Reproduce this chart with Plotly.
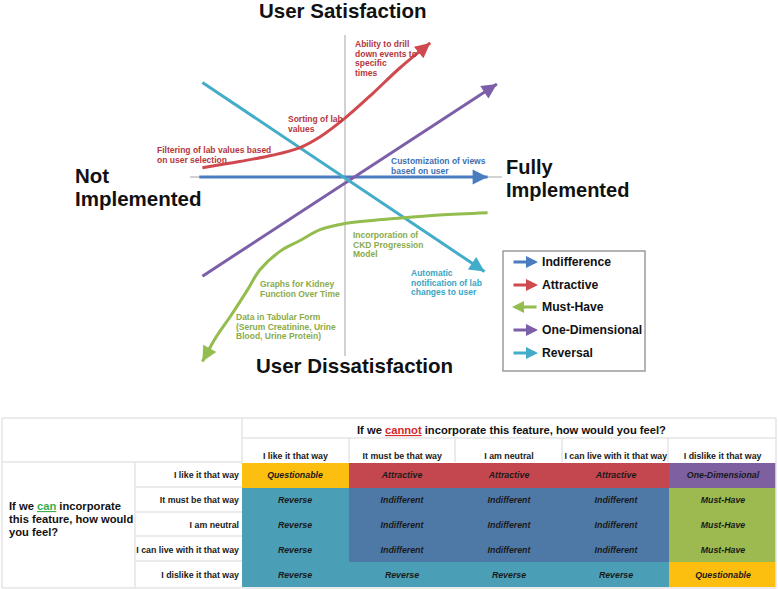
import plotly.graph_objects as go

W, H = 778, 589
FONT = "Arial, Liberation Sans, sans-serif"

# ---------------- Kano diagram data (normalised Kano space) ----------------
indiff_x = [-0.94, 0.92]
indiff_y = [0.0, 0.0]

attr_x = [-0.92, -0.68, -0.47, -0.29, -0.16, 0.0, 0.18, 0.35, 0.55]
attr_y = [0.06, 0.10, 0.14, 0.19, 0.26, 0.38, 0.54, 0.70, 0.865]

must_x = [0.92, 0.61, 0.36, 0.0, -0.16, -0.29, -0.42, -0.55, -0.63, -0.74, -0.83, -0.92]
must_y = [-0.23, -0.245, -0.265, -0.30, -0.34, -0.41, -0.48, -0.60, -0.73, -0.90, -1.03, -1.19]

onedim_x = [-0.92, 0.98]
onedim_y = [-0.64, 0.60]

rev_x = [-0.92, 0.90]
rev_y = [0.61, -0.61]

legend_names = ["Indifference", "Attractive", "Must-Have", "One-Dimensional", "Reversal"]
legend_colors = ["#4a7cc0", "#d0494f", "#93bd4e", "#7c5fa8", "#43adc9"]

notes = [
    (["Ability to drill", "down events to", "specific", "times"], "#b5363d", 353, 44),
    (["Sorting of lab", "values"], "#b5363d", 286, 119),
    (["Filtering of lab values based", "on user selection"], "#b5363d", 155, 150),
    (["Customization of views", "based on user"], "#3f6fb3", 389, 161),
    (["Incorporation of", "CKD Progression", "Model"], "#8aab4c", 351, 235),
    (["Automatic", "notification of lab", "changes to user"], "#3aa4c4", 409, 273),
    (["Graphs for Kidney", "Function Over Time"], "#8aab4c", 258, 284),
    (["Data in Tabular Form", "(Serum Creatinine, Urine", "Blood, Urine Protein)"], "#8aab4c", 234, 317),
]

# ---------------- Kano table data ----------------
answers = ["I like it that way", "It must be that way", "I am neutral",
           "I can live with it that way", "I dislike it that way"]
table = [
    ["Questionable", "Attractive", "Attractive", "Attractive", "One-Dimensional"],
    ["Reverse", "Indifferent", "Indifferent", "Indifferent", "Must-Have"],
    ["Reverse", "Indifferent", "Indifferent", "Indifferent", "Must-Have"],
    ["Reverse", "Indifferent", "Indifferent", "Indifferent", "Must-Have"],
    ["Reverse", "Reverse", "Reverse", "Reverse", "Questionable"],
]
cat_order = ["Questionable", "Attractive", "One-Dimensional", "Reverse", "Indifferent", "Must-Have"]
cat_colors = ["#fdbf0f", "#c4474f", "#7e5fa0", "#4a9fb6", "#4e79a7", "#9cba50"]

# ---------------- helpers for layout placement ----------------
CX, CY, S = 345, 177, 155  # Kano origin in pixels, pixels per unit


def px(x):
    return x / W


def py(y):
    return 1 - y / H


fig = go.Figure()

# gray axes of the Kano diagram
fig.add_trace(go.Scatter(x=[(190 - CX) / S, (502 - CX) / S], y=[0, 0], mode="lines",
                         line=dict(color="#d2d2d2", width=2), hoverinfo="skip", showlegend=False))
fig.add_trace(go.Scatter(x=[0, 0], y=[(CY - 35) / S, (CY - 356) / S], mode="lines",
                         line=dict(color="#d2d2d2", width=2), hoverinfo="skip", showlegend=False))

series = [
    (indiff_x, indiff_y, legend_colors[0], "linear"),
    (onedim_x, onedim_y, legend_colors[3], "linear"),
    (rev_x, rev_y, legend_colors[4], "linear"),
    (attr_x, attr_y, legend_colors[1], "spline"),
    (must_x, must_y, legend_colors[2], "spline"),
]
for xs, ys, col, shp in series:
    fig.add_trace(go.Scatter(x=xs, y=ys, mode="lines", line=dict(color=col, width=3, shape=shp),
                             hoverinfo="skip", showlegend=False))

annotations = []

# arrowheads at the ends of each curve (direction from last segment)
L = 14
for xs, ys, col, shp in series:
    dx, dy = xs[-1] - xs[-2], ys[-1] - ys[-2]
    nrm = max((dx * dx + dy * dy) ** 0.5, 1e-9)
    annotations.append(dict(x=xs[-1], y=ys[-1], ax=-dx / nrm * L, ay=dy / nrm * L,
                            xref="x", yref="y", axref="pixel", ayref="pixel", text="",
                            showarrow=True, arrowhead=2, arrowsize=1.0, arrowwidth=3,
                            arrowcolor=col))

# note labels
LS = 9.6
for lines, col, lx, ly in notes:
    for i, t in enumerate(lines):
        annotations.append(dict(x=px(lx), y=py(ly + i * LS), xref="paper", yref="paper",
                                text=f"<b>{t}</b>", showarrow=False, xanchor="left", yanchor="middle",
                                font=dict(family=FONT, size=8.5, color=col)))

# axis titles
big = dict(family=FONT, size=20.5, color="#111111")
titles = [
    dict(x=px(342), y=py(10), text="<b>User Satisfaction</b>", font=big),
    dict(x=px(354), y=py(365), text="<b>User Dissatisfaction</b>", font=big),
    dict(x=px(73), y=py(175), text="<b>Not</b>", font=big, xanchor="left"),
    dict(x=px(73), y=py(199), text="<b>Implemented</b>", font=big, xanchor="left"),
    dict(x=px(504), y=py(167), text="<b>Fully</b>", font=dict(family=FONT, size=20, color="#111111"), xanchor="left"),
    dict(x=px(504), y=py(190), text="<b>Implemented</b>", font=dict(family=FONT, size=20, color="#111111"), xanchor="left"),
]
for a in titles:
    a.update(xref="paper", yref="paper", showarrow=False, yanchor="middle")
annotations += titles

# legend
shapes = [dict(type="rect", xref="paper", yref="paper", x0=px(503), x1=px(645), y0=py(251), y1=py(371),
               line=dict(color="#9a9a9a", width=1.5), fillcolor="white", layer="below")]
leg_y = [262, 285, 307, 330, 353]
for name, col, yy in zip(legend_names, legend_colors, leg_y):
    left = name == "Must-Have"
    xa, xb = (538, 512) if left else (512, 538)
    annotations.append(dict(x=px(xb), y=py(yy), ax=xa - xb, ay=0, xref="paper", yref="paper",
                            axref="pixel", ayref="pixel", text="", showarrow=True, arrowhead=2,
                            arrowsize=0.8, arrowwidth=3, arrowcolor=col))
    annotations.append(dict(x=px(540), y=py(yy), xref="paper", yref="paper", text=f"<b>{name}</b>",
                            showarrow=False, xanchor="left", yanchor="middle",
                            font=dict(family=FONT, size=12.2, color="#111111")))

# ---------------- table ----------------
codes = [[cat_order.index(v) for v in row] for row in table]
n = len(cat_order)
cscale = []
for i, c in enumerate(cat_colors):
    cscale += [[i / n, c], [(i + 1) / n, c]]

fig.add_trace(go.Heatmap(
    x=answers, y=answers, z=codes, text=table, texttemplate="%{text}",
    textfont=dict(family=FONT, size=8.8, color="#1a1a1a", weight="bold", style="italic"),
    colorscale=cscale, zmin=-0.5, zmax=n - 0.5, showscale=False, hoverinfo="skip",
    xaxis="x2", yaxis="y2"))

grid = "#e4e4e4"
for seg in [
    (2, 418, 776, 418), (2, 588, 776, 588), (2, 418, 2, 588), (776, 418, 776, 588),
    (242, 438, 776, 438), (242, 418, 242, 463), (2, 462, 242, 462), (135, 462, 135, 588),
    (349, 438, 349, 462), (455, 438, 455, 462), (562, 438, 562, 462), (668, 438, 668, 462),
    (135, 487, 242, 487), (135, 512, 242, 512), (135, 536, 242, 536), (135, 561, 242, 561),
]:
    shapes.append(dict(type="line", xref="paper", yref="paper", x0=px(seg[0]), y0=py(seg[1]),
                       x1=px(seg[2]), y1=py(seg[3]), line=dict(color=grid, width=1.5)))

tfont = dict(family=FONT, size=11.2, color="#111111")
annotations.append(dict(x=px(511), y=py(430), xref="paper", yref="paper", showarrow=False,
                        text="<b>If we <span style='color:#d42a2a'><u>cannot</u></span> incorporate this feature, how would you feel?</b>",
                        font=tfont, yanchor="middle"))
for i, t in enumerate(["If we <span style='color:#3cae4e'><u>can</u></span> incorporate",
                       "this feature, how would", "you feel?"]):
    annotations.append(dict(x=px(7), y=py(506 + i * 13), xref="paper", yref="paper", showarrow=False,
                            text=f"<b>{t}</b>", font=tfont, xanchor="left", yanchor="middle"))

fig.update_layout(
    width=W, height=H, margin=dict(l=0, r=0, t=0, b=0),
    paper_bgcolor="white", plot_bgcolor="rgba(0,0,0,0)", showlegend=False,
    xaxis=dict(domain=[0, 1], range=[(0 - CX) / S, (W - CX) / S], visible=False, fixedrange=True),
    yaxis=dict(domain=[0, 1], range=[(CY - H) / S, CY / S], visible=False, fixedrange=True),
    xaxis2=dict(domain=[px(242), px(776)], anchor="y2", side="top", showgrid=False, zeroline=False,
                ticks="", tickfont=dict(family=FONT, size=8.8, color="#1a1a1a", weight="bold"),
                ticklabelstandoff=1, fixedrange=True),
    yaxis2=dict(domain=[py(587), py(463)], anchor="x2", autorange="reversed", showgrid=False,
                zeroline=False, ticks="", tickfont=dict(family=FONT, size=8.8, color="#1a1a1a", weight="bold"),
                ticklabelstandoff=2, fixedrange=True),
    annotations=annotations, shapes=shapes,
)

fig.write_html("out.html", post_script="document.body.style.margin='0';",
               config={"displayModeBar": False})
